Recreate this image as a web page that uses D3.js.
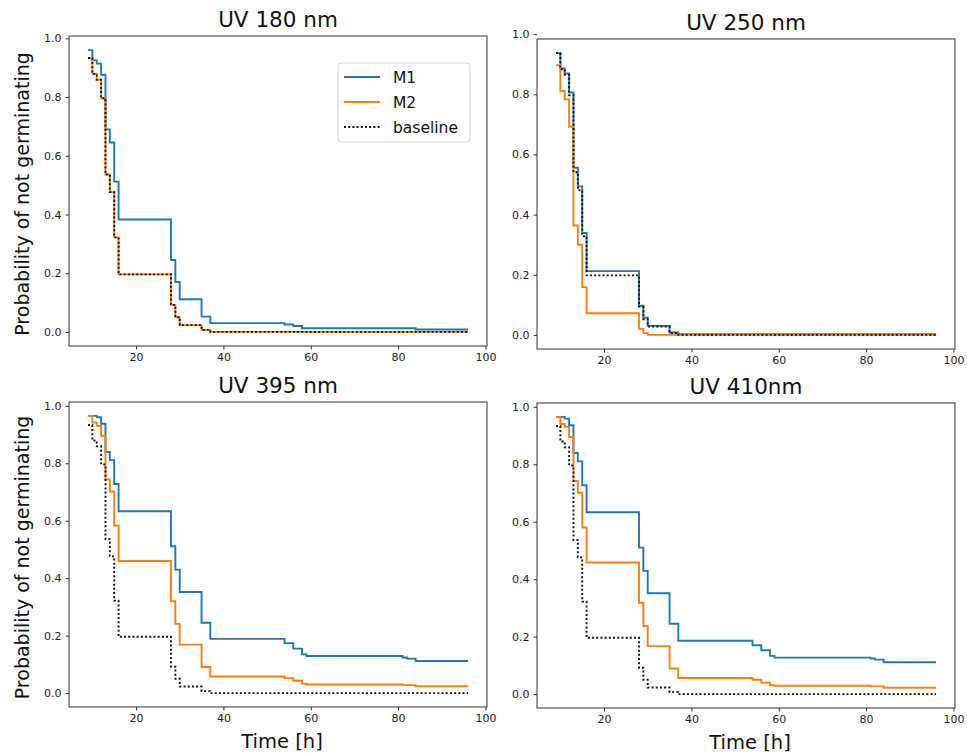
<!DOCTYPE html>
<html>
<head>
<meta charset="utf-8">
<title>Probability of not germinating</title>
<script src="https://cdnjs.cloudflare.com/ajax/libs/d3/7.8.5/d3.min.js"></script>
<style>
    body { margin: 0; background: #fff; }
    #chart { font-family: "DejaVu Sans", sans-serif; }
</style>
</head>
<body>
<svg id="chart" width="967" height="755"></svg>
<script>
    // ---- data ----
    var xTicks = [20, 40, 60, 80, 100];
    var yTicks = [0, 0.2, 0.4, 0.6, 0.8, 1.0];
    var seriesNames = ['M1', 'M2', 'baseline'];
    var panelTitles = ['UV 180 nm', 'UV 250 nm', 'UV 395 nm', 'UV 410nm'];

    // control, same in 180 / 395 / 410 panels
    var baseTimes  = [9, 10, 11, 12, 13, 14, 15, 16, 28, 29, 30, 35, 37, 96];
    var baseValues = [0.933, 0.879, 0.859, 0.796, 0.536, 0.476, 0.322, 0.196, 0.092, 0.050, 0.023, 0.007, 0.0, 0.0];

    // UV 180 nm
    var m1Times180  = [9, 10, 11, 12, 13, 14, 15, 16, 28, 29, 30, 35, 37, 54, 56, 58, 84, 96];
    var m1Values180 = [0.960, 0.925, 0.914, 0.876, 0.690, 0.645, 0.512, 0.383, 0.245, 0.170, 0.111, 0.052, 0.030, 0.025, 0.020, 0.0125, 0.008, 0.008];
    var m2Times180  = [9, 10, 11, 12, 13, 14, 15, 16, 28, 29, 30, 35, 37, 96];
    var m2Values180 = [0.933, 0.879, 0.859, 0.796, 0.536, 0.476, 0.322, 0.196, 0.092, 0.050, 0.023, 0.007, 0.0, 0.0];

    // UV 250 nm
    var m1Times250  = [9, 10, 11, 12, 13, 14, 15, 16, 28, 29, 30, 35, 37, 96];
    var m1Values250 = [0.937, 0.886, 0.869, 0.806, 0.556, 0.494, 0.339, 0.212, 0.097, 0.057, 0.030, 0.008, 0.002, 0.002];
    var m2Times250  = [9, 10, 11, 12, 13, 14, 15, 16, 28, 29, 30, 96];
    var m2Values250 = [0.897, 0.811, 0.783, 0.692, 0.364, 0.300, 0.159, 0.072, 0.020, 0.006, 0.0, 0.0];
    var baseTimes250  = [9, 10, 11, 12, 13, 14, 15, 16, 28, 29, 30, 35, 37, 96];
    var baseValues250 = [0.937, 0.883, 0.865, 0.797, 0.541, 0.481, 0.328, 0.198, 0.094, 0.052, 0.028, 0.006, 0.0, 0.0];

    // UV 395 nm
    var m1Times395  = [9, 11, 12, 13, 14, 15, 16, 28, 29, 30, 35, 37, 54, 56, 58, 59, 81, 82, 84, 96];
    var m1Values395 = [0.965, 0.960, 0.9375, 0.839, 0.811, 0.728, 0.633, 0.511, 0.430, 0.352, 0.245, 0.189, 0.174, 0.155, 0.135, 0.129, 0.124, 0.120, 0.112, 0.112];
    var m2Times395  = [9, 10, 11, 12, 13, 14, 15, 16, 28, 29, 30, 35, 37, 54, 56, 58, 59, 81, 84, 96];
    var m2Values395 = [0.965, 0.942, 0.930, 0.896, 0.744, 0.702, 0.583, 0.460, 0.320, 0.241, 0.169, 0.091, 0.058, 0.052, 0.043, 0.033, 0.030, 0.028, 0.024, 0.024];

    // UV 410 nm
    var m1Times410  = [9, 11, 12, 13, 14, 15, 16, 28, 29, 30, 35, 37, 54, 56, 58, 59, 81, 82, 84, 96];
    var m1Values410 = [0.965, 0.959, 0.936, 0.839, 0.810, 0.727, 0.633, 0.510, 0.429, 0.351, 0.245, 0.186, 0.170, 0.153, 0.133, 0.127, 0.124, 0.120, 0.111, 0.111];
    var m2Times410  = [9, 10, 11, 12, 13, 14, 15, 16, 28, 29, 30, 35, 37, 54, 56, 58, 59, 81, 84, 96];
    var m2Values410 = [0.965, 0.940, 0.930, 0.895, 0.742, 0.701, 0.580, 0.458, 0.318, 0.237, 0.167, 0.089, 0.056, 0.050, 0.040, 0.031, 0.029, 0.027, 0.022, 0.022];

    function zipSeries(times, values) {
        return times.map(function (t, i) { return { t: t, p: values[i] }; });
    }

    var panelSeries = [
        [zipSeries(m1Times180, m1Values180), zipSeries(m2Times180, m2Values180), zipSeries(baseTimes, baseValues)],
        [zipSeries(m1Times250, m1Values250), zipSeries(m2Times250, m2Values250), zipSeries(baseTimes250, baseValues250)],
        [zipSeries(m1Times395, m1Values395), zipSeries(m2Times395, m2Values395), zipSeries(baseTimes, baseValues)],
        [zipSeries(m1Times410, m1Values410), zipSeries(m2Times410, m2Values410), zipSeries(baseTimes, baseValues)]
    ];

    // ---- layout ----
    var boxes = [
        { left: 69,  top: 36,  width: 418, height: 310 },
        { left: 537, top: 39,  width: 418, height: 310 },
        { left: 69,  top: 402, width: 418, height: 305 },
        { left: 537, top: 403, width: 418, height: 305 }
    ];
    var seriesStyle = {
        'M1': { color: '#1f77b4', dash: null },
        'M2': { color: '#ff7f0e', dash: null },
        'baseline': { color: '#111', dash: '2,2.2' }
    };

    var root = d3.select('#chart');

    // matplotlib style 5% margins
    function padded(lo, hi) {
        var r = hi - lo;
        return [lo - 0.05 * r, hi + 0.05 * r];
    }

    boxes.forEach(function (box, k) {
        var series = panelSeries[k];
        var allPts = d3.merge(series);
        var x = d3.scaleLinear()
            .domain(padded(d3.min(allPts, function (d) { return d.t; }), d3.max(allPts, function (d) { return d.t; })))
            .range([0, box.width]);
        var y = d3.scaleLinear()
            .domain(padded(d3.min(allPts, function (d) { return d.p; }), d3.max(allPts, function (d) { return d.p; })))
            .range([box.height, 0]);

        var g = root.append('g').attr('transform', 'translate(' + box.left + ',' + box.top + ')');

        var line = d3.line()
            .curve(d3.curveStepAfter)
            .x(function (d) { return x(d.t); })
            .y(function (d) { return y(d.p); });

        series.forEach(function (pts, i) {
            var st = seriesStyle[seriesNames[i]];
            g.append('path')
                .attr('d', line(pts))
                .attr('fill', 'none')
                .attr('stroke', st.color)
                .attr('stroke-width', 1.9)
                .attr('stroke-dasharray', st.dash);
        });

        // axes
        var xAxis = g.append('g')
            .attr('transform', 'translate(0,' + box.height + ')')
            .call(d3.axisBottom(x).tickValues(xTicks).tickSize(3.5).tickPadding(4));
        var yAxis = g.append('g')
            .call(d3.axisLeft(y).tickValues(yTicks).tickFormat(d3.format('.1f')).tickSize(3.5).tickPadding(4));
        [xAxis, yAxis].forEach(function (ax) {
            ax.select('.domain').remove();
            ax.selectAll('text').attr('font-size', 11).attr('font-family', '"DejaVu Sans", sans-serif').attr('fill', '#222');
            ax.selectAll('line').attr('stroke', '#333');
        });

        // frame
        g.append('rect')
            .attr('width', box.width)
            .attr('height', box.height)
            .attr('fill', 'none')
            .attr('stroke', '#333')
            .attr('stroke-width', 1);

        // title
        g.append('text')
            .text(panelTitles[k])
            .attr('x', box.width / 2)
            .attr('y', -9)
            .attr('text-anchor', 'middle')
            .attr('font-size', 21.5)
            .attr('fill', '#111');

        if (k % 2 === 0) {
            g.append('text')
                .text('Probability of not germinating')
                .attr('transform', 'translate(' + (29 - box.left) + ',' + (box.height / 2 + 3) + ') rotate(-90)')
                .attr('text-anchor', 'middle')
                .attr('font-size', 19)
                .attr('fill', '#111');
        }
        if (k >= 2) {
            g.append('text')
                .text('Time [h]')
                .attr('x', box.width / 2 + 4)
                .attr('y', box.height + 41)
                .attr('text-anchor', 'middle')
                .attr('font-size', 19.5)
                .attr('fill', '#111');
        }

        // legend in first panel only
        if (k === 0) {
            var lg = g.append('g').attr('transform', 'translate(' + (338 - box.left) + ',' + (63 - box.top) + ')');
            lg.append('rect')
                .attr('width', 132)
                .attr('height', 79)
                .attr('rx', 3)
                .attr('fill', '#fff')
                .attr('fill-opacity', 0.8)
                .attr('stroke', '#d6d6d6');
            seriesNames.forEach(function (name, i) {
                var st = seriesStyle[name];
                var ly = 14 + i * 25;
                lg.append('line')
                    .attr('x1', 6).attr('x2', 42)
                    .attr('y1', ly).attr('y2', ly)
                    .attr('stroke', st.color)
                    .attr('stroke-width', 1.9)
                    .attr('stroke-dasharray', st.dash);
                lg.append('text')
                    .text(name)
                    .attr('x', 55)
                    .attr('y', ly + 5.5)
                    .attr('font-size', 15.5)
                    .attr('fill', '#111');
            });
        }
    });
</script>
</body>
</html>
